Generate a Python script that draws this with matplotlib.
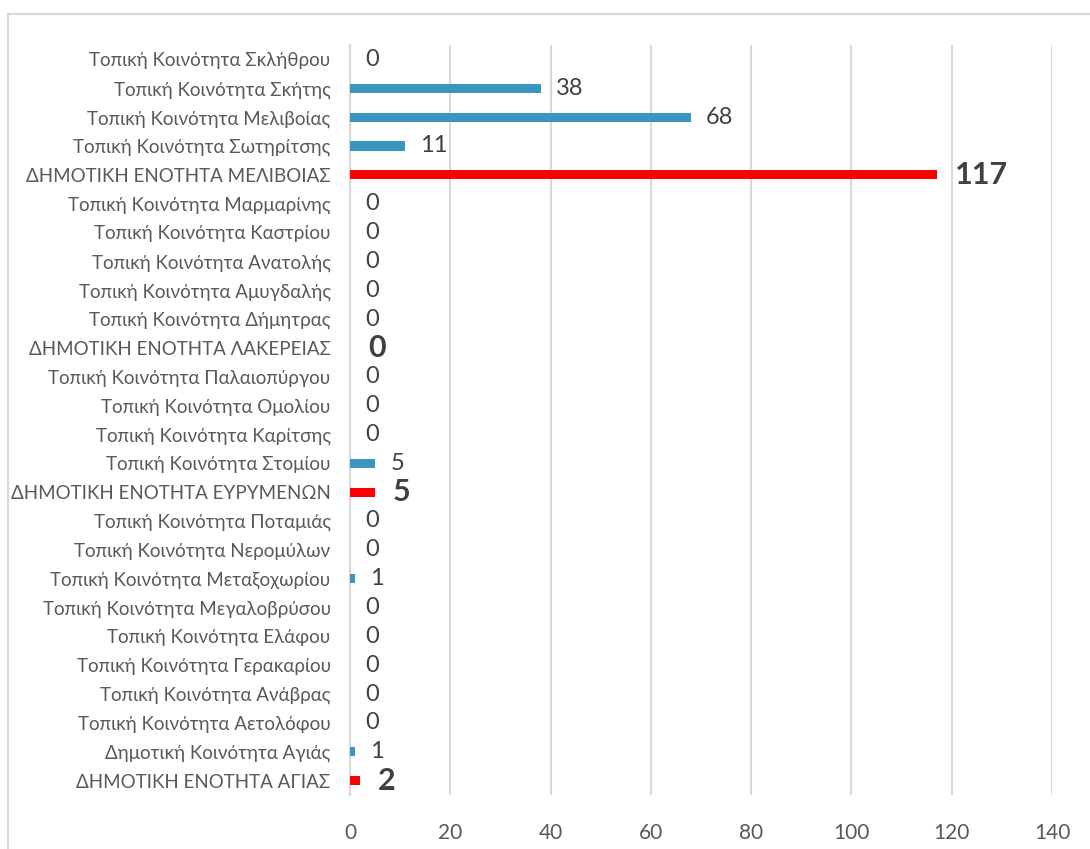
import matplotlib
matplotlib.use("Agg")
import matplotlib.pyplot as plt
from matplotlib.patches import Rectangle

plt.rcParams['font.family'] = ['Lato', 'DejaVu Sans']

# κατηγορίες από πάνω προς τα κάτω
categories = [
    "Τοπική Κοινότητα Σκλήθρου",
    "Τοπική Κοινότητα Σκήτης",
    "Τοπική Κοινότητα Μελιβοίας",
    "Τοπική Κοινότητα Σωτηρίτσης",
    "ΔΗΜΟΤΙΚΗ ΕΝΟΤΗΤΑ ΜΕΛΙΒΟΙΑΣ",
    "Τοπική Κοινότητα Μαρμαρίνης",
    "Τοπική Κοινότητα Καστρίου",
    "Τοπική Κοινότητα Ανατολής",
    "Τοπική Κοινότητα Αμυγδαλής",
    "Τοπική Κοινότητα Δήμητρας",
    "ΔΗΜΟΤΙΚΗ ΕΝΟΤΗΤΑ ΛΑΚΕΡΕΙΑΣ",
    "Τοπική Κοινότητα Παλαιοπύργου",
    "Τοπική Κοινότητα Ομολίου",
    "Τοπική Κοινότητα Καρίτσης",
    "Τοπική Κοινότητα Στομίου",
    "ΔΗΜΟΤΙΚΗ ΕΝΟΤΗΤΑ ΕΥΡΥΜΕΝΩΝ",
    "Τοπική Κοινότητα Ποταμιάς",
    "Τοπική Κοινότητα Νερομύλων",
    "Τοπική Κοινότητα Μεταξοχωρίου",
    "Τοπική Κοινότητα Μεγαλοβρύσου",
    "Τοπική Κοινότητα Ελάφου",
    "Τοπική Κοινότητα Γερακαρίου",
    "Τοπική Κοινότητα Ανάβρας",
    "Τοπική Κοινότητα Αετολόφου",
    "Δημοτική Κοινότητα Αγιάς",
    "ΔΗΜΟΤΙΚΗ ΕΝΟΤΗΤΑ ΑΓΙΑΣ",
]
values = [0, 38, 68, 11, 117, 0, 0, 0, 0, 0, 0, 0, 0, 0, 5, 5,
          0, 0, 1, 0, 0, 0, 0, 0, 1, 2]
xticks = [0, 20, 40, 60, 80, 100, 120, 140]

BLUE = "#3A96BF"
RED = "#FF0000"

fig = plt.figure(figsize=(10.9, 8.49), dpi=100)
ax = fig.add_axes([350 / 1090, 1 - 795 / 849, 702 / 1090, 750 / 849])

is_total = [c.startswith("ΔΗΜΟΤΙΚΗ ΕΝΟΤΗΤΑ") for c in categories]
colors = [RED if t else BLUE for t in is_total]
ypos = list(range(len(categories)))

ax.barh(ypos, values, height=0.32, color=colors, zorder=3)

for y, v, t in zip(ypos, values, is_total):
    if t:
        ax.annotate(str(v), (v, y), xytext=(13, 0), textcoords="offset points",
                    va="center", ha="left", fontsize=22, fontweight="bold",
                    color="#404040")
    else:
        ax.annotate(str(v), (v, y), xytext=(11, 0), textcoords="offset points",
                    va="center", ha="left", fontsize=17, color="#404040")

ax.set_xlim(0, 140)
ax.set_ylim(len(categories) - 0.5, -0.5)
ax.set_xticks(xticks)
ax.set_yticks(ypos)
ax.set_yticklabels(categories)
ax.tick_params(axis="y", length=0, pad=14, labelsize=13.5, labelcolor="#595959")
ax.tick_params(axis="x", length=0, pad=20, labelsize=15, labelcolor="#595959")

ax.grid(axis="x", color="#D9D9D9", linewidth=1.5, zorder=0)
ax.set_axisbelow(True)
for s in ["top", "right", "bottom"]:
    ax.spines[s].set_visible(False)
ax.spines["left"].set_color("#D9D9D9")
ax.spines["left"].set_linewidth(1.5)

# πλαίσιο γραφήματος
fig.patches.append(Rectangle((8 / 1090, -0.05), 1.2, 1 - 14 / 849 + 0.05,
                             transform=fig.transFigure, fill=False,
                             edgecolor="#D9D9D9", linewidth=1.5))

fig.savefig("out.png", dpi=100)
